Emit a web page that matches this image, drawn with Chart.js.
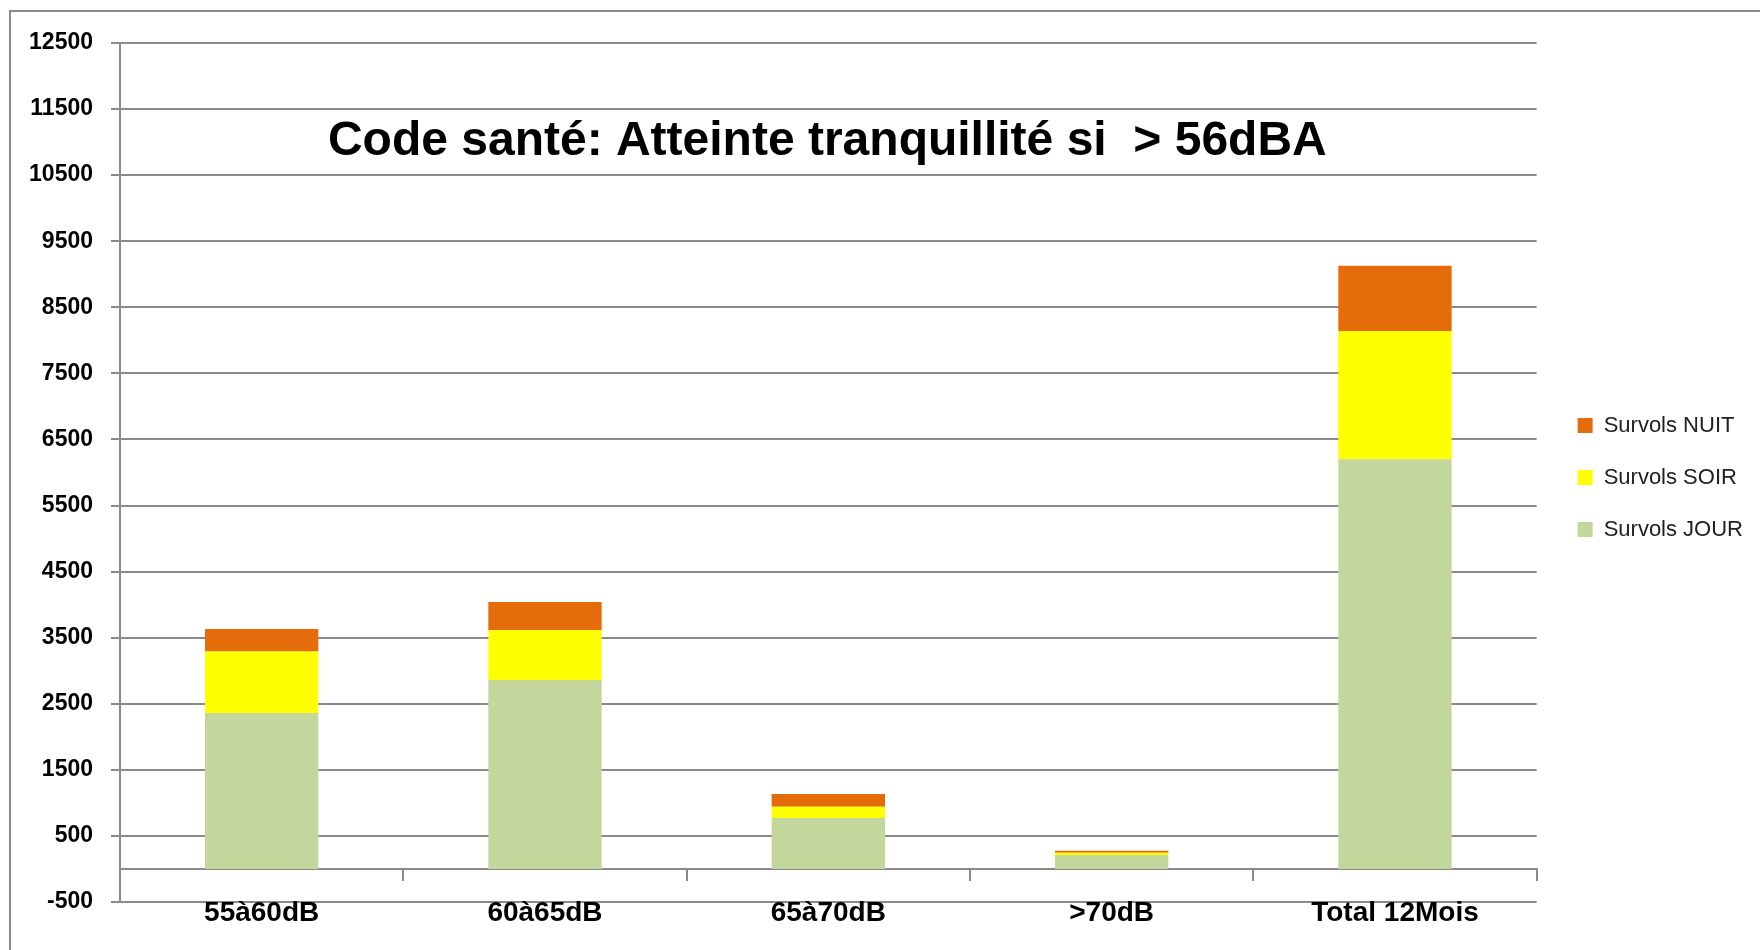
<!DOCTYPE html>
<html lang="fr">
<head>
<meta charset="utf-8">
<title>Survols</title>
<script src="https://cdn.jsdelivr.net/npm/chart.js@4.4.0/dist/chart.umd.min.js"></script>
<style>
    html, body { margin: 0; padding: 0; background: #fff; }
    #wrap { position: relative; width: 1760px; height: 950px; overflow: hidden; }
    #frame {
        position: absolute; left: 9px; top: 10px; right: -10px; bottom: -10px;
        border-left: 2px solid #8a8a8a; border-top: 2px solid #8a8a8a;
    }
    canvas { position: absolute; left: 0; top: 0; }
</style>
</head>
<body>
<div id="wrap">
    <div id="frame"></div>
    <canvas id="survols" width="1760" height="950"></canvas>
</div>
<script>
    // Data
    var chartTitle = "Code santé: Atteinte tranquillité si  > 56dBA";
    var categories = ["55à60dB", "60à65dB", "65à70dB", ">70dB", "Total 12Mois"];
    var survolsJour = [2360, 2860, 770, 210, 6200];
    var survolsSoir = [930, 755, 170, 35, 1940];
    var survolsNuit = [340, 425, 195, 30, 990];
    var yMin = -500;
    var yMax = 12500;
    var yStep = 1000;

    var grey = "#8a8a8a";
    var fontFamily = "'Liberation Sans', Arial, sans-serif";

    // Title drawn inside the plot area
    var insideTitle = {
        id: "insideTitle",
        afterDraw: function (chart) {
            var area = chart.chartArea;
            var ctx = chart.ctx;
            ctx.save();
            ctx.font = "bold 48px " + fontFamily;
            ctx.fillStyle = "#000";
            ctx.textAlign = "center";
            ctx.textBaseline = "alphabetic";
            ctx.fillText(chartTitle, (area.left + area.right) / 2 - 1, area.top + 112);
            ctx.restore();
        }
    };

    // Leave a gap between the plot area and the legend, and nudge it down a bit
    var legendGap = 11;
    var legendDrop = 5;
    var legendMargin = {
        id: "legendMargin",
        beforeInit: function (chart) {
            var fit = chart.legend.fit;
            chart.legend.fit = function () {
                fit.bind(chart.legend)();
                this.width += legendGap;
            };
        },
        afterLayout: function (chart) {
            chart.legend.left += legendGap;
            chart.legend.right += legendGap;
            chart.legend.top += legendDrop;
            chart.legend.bottom += legendDrop;
        }
    };

    var ctx = document.getElementById("survols").getContext("2d");
    var myChart = new Chart(ctx, {
        type: "bar",
        data: {
            labels: categories,
            datasets: [{
                label: "Survols JOUR",
                data: survolsJour,
                backgroundColor: "#c3d69b",
                borderColor: "#c3d69b",
                borderWidth: 0
            },
                {
                    label: "Survols SOIR",
                    data: survolsSoir,
                    backgroundColor: "#ffff00",
                    borderColor: "#ffff00",
                    borderWidth: 0
                },
                {
                    label: "Survols NUIT",
                    data: survolsNuit,
                    backgroundColor: "#e46c0a",
                    borderColor: "#e46c0a",
                    borderWidth: 0
                }
            ]
        },
        options: {
            responsive: false,
            animation: false,
            barPercentage: 0.4,
            categoryPercentage: 1,
            layout: {
                padding: {top: 43, bottom: 48, left: 0, right: 7}
            },
            scales: {
                x: {
                    stacked: true,
                    position: {y: 0},
                    grid: {drawOnChartArea: false, tickLength: 11, color: grey, lineWidth: 2},
                    border: {color: grey, width: 2},
                    ticks: {
                        color: "#000",
                        padding: 17,
                        font: {family: fontFamily, size: 28, weight: "bold"}
                    },
                    afterFit: function (scale) {
                        scale.height = 10;
                    }
                },
                y: {
                    stacked: true,
                    min: yMin,
                    max: yMax,
                    grid: {color: grey, lineWidth: 2, tickLength: 9},
                    border: {color: grey, width: 2},
                    ticks: {
                        stepSize: yStep,
                        color: "#000",
                        padding: 18,
                        font: {family: fontFamily, size: 23, weight: "bold"},
                        callback: function (value) {
                            return String(value);
                        }
                    },
                    afterFit: function (scale) {
                        scale.width = 120;
                    }
                }
            },
            plugins: {
                legend: {
                    position: "right",
                    reverse: true,
                    labels: {
                        boxWidth: 15,
                        boxHeight: 15,
                        padding: 30,
                        color: "#222",
                        font: {family: fontFamily, size: 22}
                    }
                },
                tooltip: {enabled: false}
            }
        },
        plugins: [insideTitle, legendMargin]
    });
</script>
</body>
</html>
